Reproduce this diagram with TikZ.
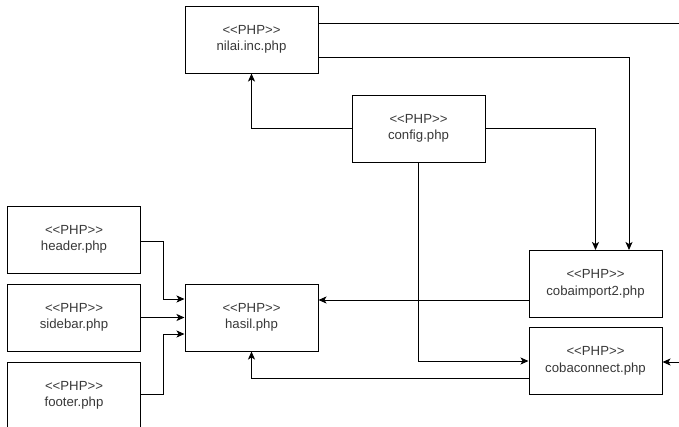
\documentclass[tikz,border=0pt]{standalone}
\usepackage{fontspec}
\setmainfont{Liberation Sans}[Ligatures=TeXOff]
\usetikzlibrary{arrows.meta}
\begin{document}
\begin{tikzpicture}[x=1pt,y=-1pt,
  php/.style={draw, line width=1pt, minimum width=133pt, minimum height=67pt, inner sep=0pt,
    align=center, text=black!78, font=\fontsize{13.2}{16.5}\selectfont},
  conn/.style={line width=1pt, -{Stealth[length=8pt,width=7pt,inset=2pt]}},
  wire/.style={line width=1pt}]
\useasboundingbox (0,0) rectangle (679,426);
\clip (0,0) rectangle (679,426);
\node[php] (nilai) at (251.5,39.5) {<<PHP>>\\nilai.inc.php};
\node[php] (config) at (418.5,128.5) {<<PHP>>\\config.php};
\node[php] (header) at (74,239.5) {<<PHP>>\\header.php};
\node[php] (sidebar) at (74,317.5) {<<PHP>>\\sidebar.php};
\node[php] (footer) at (74,395.5) {<<PHP>>\\footer.php};
\node[php] (hasil) at (251.5,317.5) {<<PHP>>\\hasil.php};
\node[php] (cobaimport) at (595.5,284) {<<PHP>>\\cobaimport2.php};
\node[php] (cobaconnect) at (595.5,361) {<<PHP>>\\cobaconnect.php};
\coordinate (edgeA) at (680,23);
\coordinate (edgeB) at (680,362);
\coordinate (ciout) at ([yshift=-16pt]cobaimport.west);
% connectors
\draw[conn] (config.west) -| (nilai.south);
\draw[wire] ([yshift=16.5pt]nilai.east) -- (edgeA);
\draw[conn] ([yshift=-17.5pt]nilai.east) -| ([xshift=33.5pt]cobaimport.north);
\draw[conn] (config.east) -| (cobaimport.north);
\draw[conn] (config.south) |- (cobaconnect.west);
\draw[conn] (edgeB) -- (cobaconnect.east |- edgeB);
\draw[conn] (ciout) -- (hasil.east |- ciout);
\draw[conn] ([yshift=-17pt]cobaconnect.west) -| (hasil.south);
\draw[conn] ([yshift=-1.5pt]header.east) -- ++(22,0) |- ([yshift=18.5pt]hasil.west);
\draw[conn] (sidebar.east) -- (hasil.west);
\draw[conn] ([yshift=1.5pt]footer.east) -- ++(22,0) |- ([yshift=-16.5pt]hasil.west);
\end{tikzpicture}
\end{document}
